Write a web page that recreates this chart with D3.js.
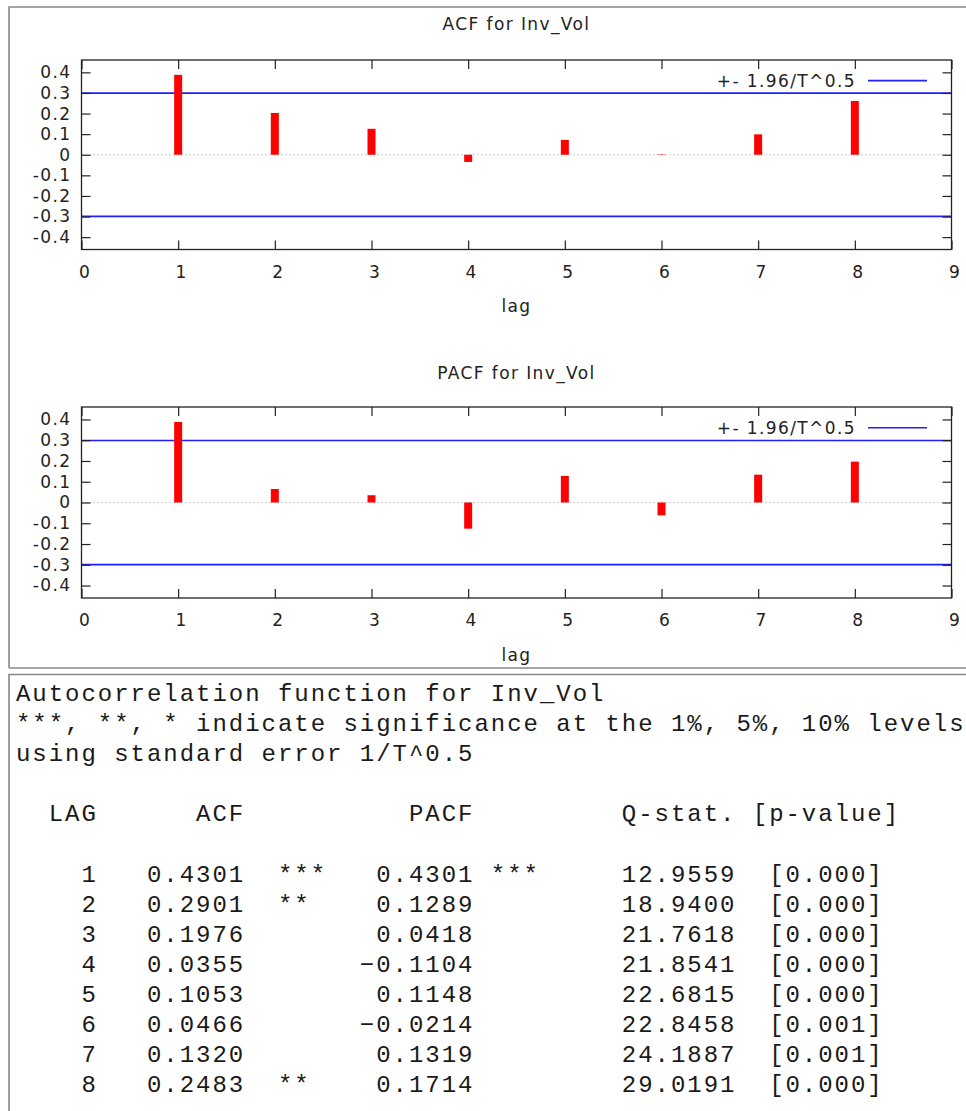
<!DOCTYPE html>
<html>
<head>
<meta charset="utf-8">
<script src="https://cdn.jsdelivr.net/npm/d3@7/dist/d3.min.js"></script>
<style>
    body { margin: 0; background: #fff; }
    svg { display: block; }
    .chart-text { font-family: "DejaVu Sans", Verdana, sans-serif; font-size: 17px; fill: #222; letter-spacing: 1.4px; }
    .mono { font-family: "Liberation Mono", "Courier New", monospace; font-size: 24px; fill: #1a1a1a; letter-spacing: 1.97px; white-space: pre; }
</style>
</head>
<body>
<div id="chart"></div>
<script>
// bar heights as drawn in the plots
const lags = [1, 2, 3, 4, 5, 6, 7, 8];
const acfBars = [0.388, 0.203, 0.126, -0.035, 0.072, 0.002, 0.099, 0.261];
const pacfBars = [0.388, 0.065, 0.035, -0.126, 0.128, -0.062, 0.134, 0.197];
const yTicks = [-0.4, -0.3, -0.2, -0.1, 0, 0.1, 0.2, 0.3, 0.4];
const xTicks = [0, 1, 2, 3, 4, 5, 6, 7, 8, 9];
const band = 0.299; // 1.96/T^0.5

// table values
const tableAcf = [0.4301, 0.2901, 0.1976, 0.0355, 0.1053, 0.0466, 0.1320, 0.2483];
const acfStars = ["***", "**", "", "", "", "", "", "**"];
const tablePacf = [0.4301, 0.1289, 0.0418, -0.1104, 0.1148, -0.0214, 0.1319, 0.1714];
const pacfStars = ["***", "", "", "", "", "", "", ""];
const qStat = [12.9559, 18.9400, 21.7618, 21.8541, 22.6815, 22.8458, 24.1887, 29.0191];
const pValue = [0.000, 0.000, 0.000, 0.000, 0.000, 0.001, 0.001, 0.000];

const W = 966, H = 1111;

const svg = d3.select("#chart")
    .append("svg")
    .attr("width", W)
    .attr("height", H);

// =============================
// PANEL BORDERS
// =============================
svg.append("path")
    .attr("d", "M9,668 V7 H966")
    .attr("fill", "none")
    .attr("stroke", "#888")
    .attr("stroke-width", 1.6);
svg.append("line")
    .attr("x1", 9).attr("x2", 966)
    .attr("y1", 668).attr("y2", 668)
    .attr("stroke", "#888").attr("stroke-width", 1.6);
svg.append("path")
    .attr("d", "M9,1111 V674.5 H966")
    .attr("fill", "none")
    .attr("stroke", "#888")
    .attr("stroke-width", 1.6);

const x = d3.scaleLinear().domain([0, 9]).range([81.5, 951.5]);

function yFmt(d) {
    if (Math.abs(d) < 1e-9) return "0";
    return (d < 0 ? "-" : "") + Math.abs(d).toFixed(1);
}

function drawPanel(opts) {
    const y = d3.scaleLinear().domain([-0.46, 0.46]).range([opts.bottom, opts.top]);
    const g = svg.append("g");

    // title
    g.append("text")
        .attr("class", "chart-text")
        .attr("x", (x.range()[0] + x.range()[1]) / 2)
        .attr("y", opts.titleY)
        .attr("text-anchor", "middle")
        .text(opts.title);

    // zero line
    g.append("line")
        .attr("x1", x(0)).attr("x2", x(9))
        .attr("y1", y(0)).attr("y2", y(0))
        .attr("stroke", "#999")
        .attr("stroke-width", 1)
        .attr("stroke-dasharray", "1,3");

    // bands
    [band, -band].forEach(v => {
        g.append("line")
            .attr("x1", x(0)).attr("x2", x(9))
            .attr("y1", y(v)).attr("y2", y(v))
            .attr("stroke", "#1f1fff")
            .attr("stroke-width", 1.6);
    });

    // bars
    g.append("g")
        .selectAll("rect")
        .data(opts.values)
        .enter()
        .append("rect")
        .attr("x", (d, i) => x(lags[i]) - 4)
        .attr("width", 8)
        .attr("y", d => y(Math.max(d, 0)))
        .attr("height", d => Math.abs(y(d) - y(0)))
        .attr("fill", "#ff0000");

    // axes, gnuplot style ticks pointing in
    const left = g.append("g")
        .attr("transform", `translate(${x(0)},0)`)
        .call(d3.axisLeft(y).tickValues(yTicks).tickFormat(yFmt).tickSize(-9).tickPadding(10));
    const right = g.append("g")
        .attr("transform", `translate(${x(9)},0)`)
        .call(d3.axisRight(y).tickValues(yTicks).tickFormat("").tickSize(-9));
    const bottom = g.append("g")
        .attr("transform", `translate(0,${opts.bottom})`)
        .call(d3.axisBottom(x).tickValues(xTicks).tickFormat(d3.format("d")).tickSize(-9).tickPadding(16));
    const top = g.append("g")
        .attr("transform", `translate(0,${opts.top})`)
        .call(d3.axisTop(x).tickValues(xTicks).tickFormat("").tickSize(-9));

    [left, right, bottom, top].forEach(a => {
        a.select(".domain").remove();
        a.selectAll("line").attr("stroke", "#222").attr("stroke-width", 1.2);
        a.selectAll("text")
            .attr("class", "chart-text")
            .attr("fill", null)
            .attr("font-family", null)
            .attr("font-size", null);
    });
    bottom.selectAll("text").attr("dx", 3);

    // frame
    g.append("rect")
        .attr("x", x(0)).attr("y", opts.top)
        .attr("width", x(9) - x(0))
        .attr("height", opts.bottom - opts.top)
        .attr("fill", "none")
        .attr("stroke", "#222")
        .attr("stroke-width", 1.3);

    // legend
    const ly = y(opts.legendValue);
    g.append("text")
        .attr("class", "chart-text")
        .attr("x", 856)
        .attr("y", ly + 6)
        .attr("text-anchor", "end")
        .text("+- 1.96/T^0.5");
    g.append("line")
        .attr("x1", 868).attr("x2", 927)
        .attr("y1", ly).attr("y2", ly)
        .attr("stroke", "#1f1fff")
        .attr("stroke-width", 1.6);

    // x label
    g.append("text")
        .attr("class", "chart-text")
        .attr("x", (x.range()[0] + x.range()[1]) / 2)
        .attr("y", opts.lagY)
        .attr("text-anchor", "middle")
        .text("lag");
}

drawPanel({ title: "ACF for Inv_Vol", values: acfBars, top: 60, bottom: 249.5, titleY: 30, lagY: 312, legendValue: 0.36 });
drawPanel({ title: "PACF for Inv_Vol", values: pacfBars, top: 407, bottom: 598, titleY: 379, lagY: 661, legendValue: 0.36 });

// =============================
// TEXT OUTPUT
// =============================
const lines = [
    "Autocorrelation function for Inv_Vol",
    "***, **, * indicate significance at the 1%, 5%, 10% levels",
    "using standard error 1/T^0.5",
    "",
    "  LAG      ACF          PACF         Q-stat. [p-value]",
    ""
];
lags.forEach((lag, i) => {
    const row = String(lag).padStart(5) + "   " +
        tableAcf[i].toFixed(4) + "  " +
        acfStars[i].padEnd(3) +
        tablePacf[i].toFixed(4).replace("-", "\u2212").padStart(9) + " " +
        pacfStars[i].padEnd(3) + "     " +
        qStat[i].toFixed(4).padStart(7) + "  " +
        "[" + pValue[i].toFixed(3) + "]";
    lines.push(row);
});

svg.append("g")
    .selectAll("text")
    .data(lines)
    .enter()
    .append("text")
    .attr("class", "mono")
    .attr("x", 16)
    .attr("y", (d, i) => 701 + i * 30.1)
    .text(d => d);
</script>
</body>
</html>
